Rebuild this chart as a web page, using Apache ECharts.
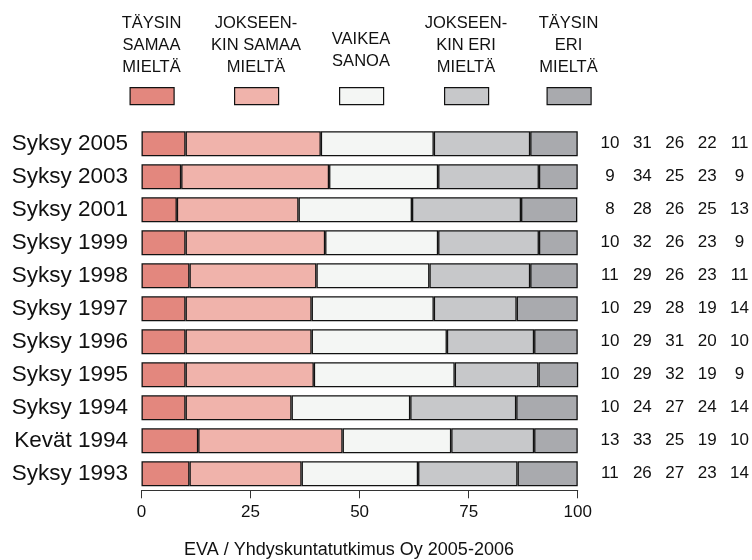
<!DOCTYPE html>
<html>
<head>
<meta charset="utf-8">
<script src="https://cdn.jsdelivr.net/npm/echarts@6/dist/echarts.min.js"></script>
<style>
  html, body { margin: 0; padding: 0; background: #fff; }
  #chart { width: 752px; height: 560px; }
</style>
</head>
<body>
<div id="chart"></div>
<script>
// categories, top to bottom
const periods = ['Syksy 2005', 'Syksy 2003', 'Syksy 2001', 'Syksy 1999', 'Syksy 1998', 'Syksy 1997',
                 'Syksy 1996', 'Syksy 1995', 'Syksy 1994', 'Kevät 1994', 'Syksy 1993']

// answer groups (header text)
const answerNames = ['TÄYSIN\nSAMAA\nMIELTÄ', 'JOKSEEN-\nKIN SAMAA\nMIELTÄ', 'VAIKEA\nSANOA',
                     'JOKSEEN-\nKIN ERI\nMIELTÄ', 'TÄYSIN\nERI\nMIELTÄ']

// bar lengths (%) as drawn
const taysinSamaa     = [10.1, 9.1, 8.1, 10.1, 11.0, 10.1, 10.1, 10.1, 10.1, 13.0, 11.0]
const jokseenkinSamaa = [31.0, 33.9, 27.9, 32.0, 29.1, 28.9, 28.9, 29.4, 24.3, 33.1, 25.7]
const vaikeaSanoa     = [25.9, 25.0, 26.0, 25.9, 25.9, 28.0, 31.0, 32.3, 27.2, 24.9, 26.7]
const jokseenkinEri   = [22.1, 23.1, 25.0, 23.1, 23.1, 19.0, 20.0, 19.2, 24.3, 19.0, 22.8]
const taysinEri       = [10.9, 8.9, 12.9, 8.9, 10.9, 14.0, 10.0, 9.1, 14.1, 10.0, 13.8]

// rounded figures printed on the right
const shownTaysinSamaa     = [10, 9, 8, 10, 11, 10, 10, 10, 10, 13, 11]
const shownJokseenkinSamaa = [31, 34, 28, 32, 29, 29, 29, 29, 24, 33, 26]
const shownVaikeaSanoa     = [26, 25, 26, 26, 26, 28, 31, 32, 27, 25, 27]
const shownJokseenkinEri   = [22, 23, 25, 23, 23, 19, 20, 19, 24, 19, 23]
const shownTaysinEri       = [11, 9, 13, 9, 11, 14, 10, 9, 14, 10, 14]

const xTicks = [0, 25, 50, 75, 100]
const sourceText = 'EVA / Yhdyskuntatutkimus Oy 2005-2006'

const colors = ['#e3877e', '#f0b3ab', '#f4f6f4', '#c7c8ca', '#a9aaae']
const barData = [taysinSamaa, jokseenkinSamaa, vaikeaSanoa, jokseenkinEri, taysinEri]
const shownData = [shownTaysinSamaa, shownJokseenkinSamaa, shownVaikeaSanoa, shownJokseenkinEri, shownTaysinEri]

const fontMain = "'Liberation Sans', Arial, sans-serif"

const myChart = echarts.init(document.getElementById('chart'))

// header positions (centre x of each legend column)
const headerCenters = [151.5, 256, 361, 466, 568.5]
const headerTops = [12, 12, 28.5, 12, 12]

const title = []
const legend = []
const series = []
answerNames.forEach(function (name, idx) {
    title.push({
        text: name,
        left: headerCenters[idx],
        top: headerTops[idx],
        textAlign: 'center',
        padding: 0,
        textStyle: {
            fontFamily: fontMain,
            fontSize: 16.5,
            fontWeight: 'normal',
            lineHeight: 22.3,
            color: '#111'
        }
    })
    legend.push({
        data: [name],
        left: headerCenters[idx] - 22,
        top: 87,
        padding: 0,
        itemWidth: 44,
        itemHeight: 17,
        icon: 'rect',
        selectedMode: false,
        formatter: function () { return '' },
        itemStyle: { borderColor: '#111', borderWidth: 1.2 }
    })
    series.push({
        name: name,
        type: 'bar',
        stack: 'all',
        barWidth: 25,
        data: barData[idx],
        itemStyle: {
            color: colors[idx],
            borderColor: '#111',
            borderWidth: 1.3
        },
        emphasis: { disabled: true }
    })
})

title.push({
    text: sourceText,
    left: 349,
    top: 541,
    textAlign: 'center',
    padding: 0,
    textStyle: { fontFamily: fontMain, fontSize: 18, fontWeight: 'normal', color: '#111' }
})

const option = {
    animation: false,
    textStyle: { fontFamily: fontMain },
    title: title,
    legend: legend,
    grid: {
        left: 141.5,
        right: 172.5,
        top: 127.3,
        bottom: 69.7
    },
    xAxis: {
        type: 'value',
        min: 0,
        max: 100,
        interval: 25,
        splitLine: { show: false },
        axisLine: { show: true, lineStyle: { color: '#333', width: 1 } },
        axisTick: { show: true, length: 8, lineStyle: { color: '#333', width: 1 } },
        axisLabel: {
            margin: 14,
            fontSize: 17,
            color: '#111',
            formatter: function (v) { return xTicks.indexOf(v) >= 0 ? String(v) : '' }
        }
    },
    yAxis: [
        {
            type: 'category',
            data: periods,
            inverse: true,
            axisLine: { show: false },
            axisTick: { show: false },
            axisLabel: { margin: 13.5, fontSize: 22.5, color: '#111' }
        },
        {
            type: 'category',
            data: periods,
            inverse: true,
            position: 'right',
            axisLine: { show: false },
            axisTick: { show: false },
            axisLabel: {
                margin: 16,
                align: 'left',
                formatter: function (v, i) {
                    return shownData.map(function (arr) { return '{c|' + arr[i] + '}' }).join('')
                },
                rich: {
                    c: { width: 32.4, align: 'center', fontSize: 17, color: '#111' }
                }
            }
        }
    ],
    series: series
}
option && myChart.setOption(option)
</script>
</body>
</html>
